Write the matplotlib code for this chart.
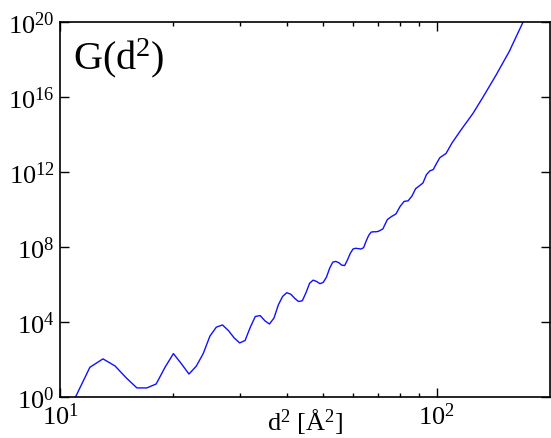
import numpy as np
import matplotlib
matplotlib.use("Agg")
import matplotlib.pyplot as plt
from matplotlib.ticker import FixedLocator, NullFormatter, NullLocator

# fonts: Times-like everywhere, also inside math text
plt.rcParams["font.family"] = ["Liberation Serif", "DejaVu Serif"]
plt.rcParams["mathtext.fontset"] = "custom"
plt.rcParams["mathtext.rm"] = "Liberation Serif"
plt.rcParams["mathtext.it"] = "Liberation Serif:italic"

# data: d^2 in A^2 and exponent of G(d^2)
d2 = [11, 12, 13, 14, 15, 16, 17, 18, 19, 20, 21, 22, 23, 24, 25, 26, 27, 28, 29, 30,
      31, 32, 33, 34, 35, 36, 37, 38, 39, 40, 41, 42, 43, 44, 45, 46, 47, 48, 49, 50,
      51, 52, 53, 54, 55, 56, 57, 58, 59, 60, 61, 62, 63, 64, 65, 66, 67, 68, 69, 70,
      72, 74, 76, 78, 80, 82, 84, 86, 88, 90, 92, 94, 96, 98, 100, 102, 106, 110, 116,
      125, 133, 144, 156, 170, 180]
log_g = [0.0, 1.57, 2.02, 1.64, 1.0, 0.47, 0.47, 0.68, 1.57, 2.3, 1.76, 1.21, 1.63, 2.3, 3.23,
         3.71, 3.83, 3.53, 3.14, 2.87, 3.0, 3.7, 4.28, 4.33, 4.05, 3.88, 4.2, 4.9, 5.35, 5.55,
         5.47, 5.25, 5.08, 5.12, 5.55, 6.05, 6.22, 6.15, 6.03, 6.1, 6.38, 6.85, 7.18, 7.22, 7.15,
         7.02, 7.0, 7.3, 7.65, 7.88, 7.92, 7.9, 7.88, 7.95, 8.3, 8.6, 8.78, 8.8, 8.8, 8.82,
         8.95, 9.45, 9.62, 9.75, 10.15, 10.42, 10.45, 10.7, 11.1, 11.25, 11.4, 11.85, 12.05,
         12.12, 12.45, 12.75, 12.98, 13.55, 14.22, 15.12, 16.0, 17.17, 18.42, 20.02, 21.1]
g = [10.0 ** v for v in log_g]

y_ticks = [1e0, 1e4, 1e8, 1e12, 1e16, 1e20]
x_minor = [20, 30, 40, 50, 60, 70, 80, 90]

fig = plt.figure(figsize=(5.51, 4.39), dpi=100)
ax = fig.add_axes([0.109, 0.094, 0.889, 0.854])

ax.plot(d2, g, color="#1010ff", lw=1.0)

ax.set_xscale("log")
ax.set_yscale("log")
ax.set_xlim(10, 200)
ax.set_ylim(1e0, 1e20)

ax.yaxis.set_major_locator(FixedLocator(y_ticks))
ax.yaxis.set_minor_locator(NullLocator())
ax.xaxis.set_major_locator(FixedLocator([10, 100]))
ax.xaxis.set_minor_locator(FixedLocator(x_minor))
ax.xaxis.set_minor_formatter(NullFormatter())

ax.tick_params(which="both", direction="in", top=True, right=True,
               labelsize=19, width=1.0, pad=4)
ax.tick_params(which="major", length=6.5)
ax.tick_params(which="minor", length=3)
for s in ax.spines.values():
    s.set_linewidth(1.2)

ax.text(0.5, -0.025, r"d$^2$ [Å$^2$]", transform=ax.transAxes,
        ha="center", va="top", fontsize=19)
ax.text(0.027, 0.875, r"G(d$^2$)", transform=ax.transAxes,
        ha="left", va="baseline", fontsize=29)

fig.savefig("out.png", dpi=100)
